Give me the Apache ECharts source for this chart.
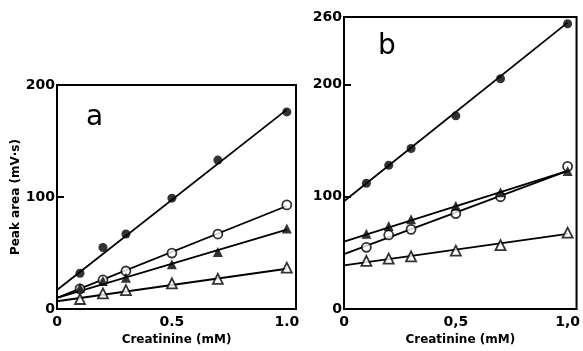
<!DOCTYPE html>
<html>
<head>
<meta charset="utf-8">
<script src="https://cdn.jsdelivr.net/npm/echarts@6/dist/echarts.min.js"></script>
<style>
  html, body { margin: 0; padding: 0; background: #fff; }
  #chart { width: 583px; height: 351px; }
</style>
</head>
<body>
<div id="chart"></div>
<script>
// creatinine concentrations (mM)
const conc = [0.1, 0.2, 0.3, 0.5, 0.7, 1.0]
const fitX = [0, 1.0]
const xLabelsA = ['0', '0.5', '1.0']
const xLabelsB = ['0', '0,5', '1,0']
const xTickValues = [0, 0.5, 1.0]

// panel a, peak area (mV·s)
const aFilledCircle = [32, 55, 67, 99, 133, 176]
const aOpenCircle = [18, 26, 34, 50, 67, 93]
const aFilledTri = [19, 25, 28, 40, 51, 72]
const aOpenTri = [9, 14, 17, 23, 27, 37]
const aFitFilledCircle = [17, 178]
const aFitOpenCircle = [10, 92]
const aFitFilledTri = [10, 71]
const aFitOpenTri = [7, 36]

// panel b
const bFilledCircle = [112, 128, 143, 172, 205, 254]
const bFilledTri = [67, 74, 80, 92, 104, 123]
const bOpenCircle = [55, 66, 71, 85, 100, 127]
const bOpenTri = [43, 45, 47, 52, 57, 68]
const bFitFilledCircle = [96, 255]
const bFitFilledTri = [60, 123]
const bFitOpenCircle = [49, 123]
const bFitOpenTri = [39, 67]

const font = 'DejaVu Sans'
const pair = (xs, ys) => xs.map((x, i) => [x, ys[i]])

const fitLine = (ys, idx) => ({
    type: 'line',
    xAxisIndex: idx,
    yAxisIndex: idx,
    data: pair(fitX, ys),
    symbol: 'none',
    silent: true,
    lineStyle: { color: '#000', width: 1.8 },
    z: 2
})

const points = (ys, idx, symbol, filled) => ({
    type: 'scatter',
    xAxisIndex: idx,
    yAxisIndex: idx,
    data: pair(conc, ys),
    symbol: symbol,
    symbolSize: symbol === 'triangle' ? 10 : 9,
    itemStyle: {
        color: filled ? '#000' : '#fff',
        borderColor: '#000',
        borderWidth: filled ? 0 : 1.8
    },
    z: 3
})

const xAxis = (idx, labels) => ({
    type: 'value',
    gridIndex: idx,
    min: 0,
    max: 1.04,
    interval: 0.5,
    name: 'Creatinine (mM)',
    nameLocation: 'middle',
    nameGap: 24,
    nameTextStyle: { fontFamily: font, fontWeight: 'bold', fontSize: 12, color: '#000' },
    axisLine: { show: true, lineStyle: { color: '#000', width: 2 } },
    axisTick: { show: false },
    splitLine: { show: false },
    axisLabel: {
        customValues: xTickValues,
        formatter: v => labels[xTickValues.indexOf(v)],
        fontFamily: font,
        fontWeight: 'bold',
        fontSize: 14,
        color: '#000',
        margin: 6
    }
})

const yLabel = { fontFamily: font, fontWeight: 'bold', fontSize: 14, color: '#000', margin: 2 }
const yTick = { show: true, inside: true, length: 7, lineStyle: { color: '#000', width: 2 } }

const chart = echarts.init(document.getElementById('chart'))
chart.setOption({
    animation: false,
    grid: [
        { left: 57, top: 85, width: 239, height: 231, show: true, borderColor: '#000', borderWidth: 2 },
        { left: 344, top: 17, width: 238, height: 299, show: true, borderColor: '#000', borderWidth: 2 }
    ],
    xAxis: [xAxis(0, xLabelsA), xAxis(1, xLabelsB)],
    yAxis: [
        {
            type: 'value',
            gridIndex: 0,
            min: 0,
            max: 200,
            interval: 100,
            name: 'Peak area (mV·s)',
            nameLocation: 'middle',
            nameGap: 34,
            nameTextStyle: { fontFamily: font, fontWeight: 'bold', fontSize: 12, color: '#000' },
            axisLine: { show: true, lineStyle: { color: '#000', width: 2 } },
            axisTick: yTick,
            splitLine: { show: false },
            axisLabel: yLabel
        },
        {
            type: 'value',
            gridIndex: 1,
            min: 0,
            max: 260,
            axisLine: { show: true, lineStyle: { color: '#000', width: 2 } },
            axisTick: Object.assign({ customValues: [0, 100, 200, 260] }, yTick),
            splitLine: { show: false },
            axisLabel: Object.assign({ customValues: [0, 100, 200, 260] }, yLabel)
        }
    ],
    graphic: [
        { type: 'text', left: 86, top: 104, style: { text: 'a', font: '28px "DejaVu Sans"', fill: '#000' } },
        { type: 'text', left: 378, top: 33, style: { text: 'b', font: '28px "DejaVu Sans"', fill: '#000' } }
    ],
    series: [
        fitLine(aFitFilledCircle, 0),
        fitLine(aFitOpenCircle, 0),
        fitLine(aFitFilledTri, 0),
        fitLine(aFitOpenTri, 0),
        points(aOpenTri, 0, 'triangle', false),
        points(aOpenCircle, 0, 'circle', false),
        points(aFilledTri, 0, 'triangle', true),
        points(aFilledCircle, 0, 'circle', true),
        fitLine(bFitFilledCircle, 1),
        fitLine(bFitOpenCircle, 1),
        fitLine(bFitFilledTri, 1),
        fitLine(bFitOpenTri, 1),
        points(bOpenTri, 1, 'triangle', false),
        points(bOpenCircle, 1, 'circle', false),
        points(bFilledTri, 1, 'triangle', true),
        points(bFilledCircle, 1, 'circle', true)
    ]
})
</script>
</body>
</html>
